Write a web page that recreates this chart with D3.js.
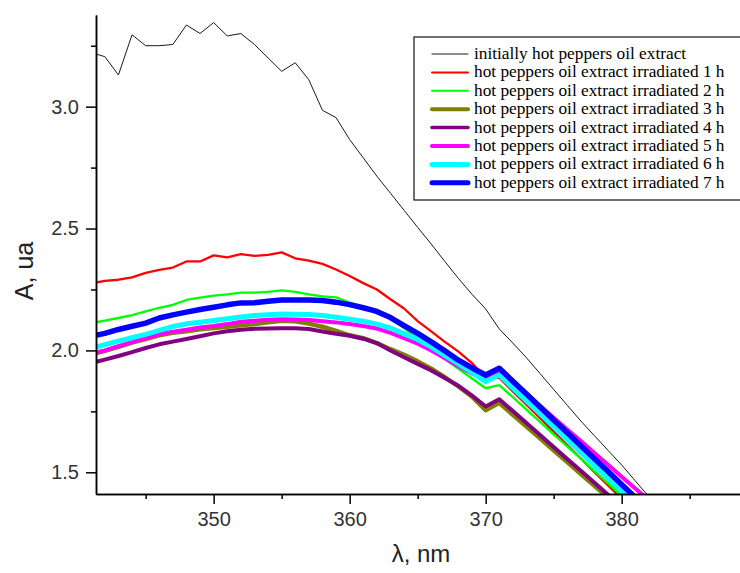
<!DOCTYPE html>
<html>
<head>
<meta charset="utf-8">
<script src="https://cdn.jsdelivr.net/npm/d3@7"></script>
<style>
body { margin: 0; background: #fff; }
</style>
</head>
<body>
<div id="chart"></div>
<script>
// wavelength, nm
var wavelengths = [341,342,343,344,345,346,347,348,349,350,351,352,353,354,355,356,357,358,359,360,361,
                   362,363,364,365,366,367,368,369,370,371,372,373,374,375,376,377,378,379,380,381,382,383];

var initial  = [3.222,3.205,3.13,3.295,3.25,3.25,3.255,3.335,3.30,3.345,3.29,3.30,3.255,3.20,3.145,3.18,3.11,2.985,2.955,2.865,2.79,
                2.715,2.645,2.575,2.505,2.436,2.365,2.295,2.23,2.17,2.088,2.03,1.97,1.905,1.84,1.775,1.71,1.65,1.59,1.53,1.465,1.40,1.335];
var irr_1h   = [2.275,2.285,2.29,2.30,2.318,2.33,2.34,2.365,2.365,2.39,2.382,2.395,2.388,2.392,2.402,2.378,2.368,2.355,2.332,2.305,2.276,
                2.25,2.21,2.172,2.12,2.078,2.035,1.995,1.948,1.885,1.888,1.832,1.777,1.722,1.667,1.612,1.556,1.501,1.446,1.391,1.336,1.28,1.226];
var irr_2h   = [2.112,2.122,2.133,2.145,2.16,2.175,2.187,2.207,2.217,2.225,2.23,2.237,2.237,2.24,2.246,2.24,2.23,2.222,2.218,2.196,2.18,
                2.153,2.13,2.092,2.05,2.008,1.965,1.925,1.885,1.845,1.858,1.808,1.757,1.707,1.656,1.606,1.556,1.505,1.455,1.404,1.354,1.30,1.25];
var irr_3h   = [1.984,1.998,2.015,2.032,2.047,2.062,2.072,2.079,2.087,2.092,2.097,2.103,2.108,2.115,2.122,2.12,2.11,2.097,2.08,2.062,2.05,
                2.03,2.005,1.982,1.955,1.925,1.89,1.852,1.81,1.755,1.785,1.736,1.688,1.639,1.59,1.542,1.493,1.445,1.396,1.348,1.30,1.25,1.20];
var irr_4h   = [1.948,1.962,1.977,1.993,2.01,2.025,2.036,2.047,2.058,2.07,2.079,2.085,2.089,2.09,2.091,2.091,2.088,2.078,2.068,2.06,2.048,
                2.03,2.0,1.972,1.945,1.918,1.887,1.855,1.815,1.77,1.80,1.751,1.702,1.653,1.604,1.555,1.506,1.457,1.408,1.36,1.31,1.26,1.21];
var irr_5h   = [1.986,2.0,2.017,2.034,2.05,2.066,2.077,2.085,2.094,2.10,2.108,2.118,2.122,2.126,2.128,2.127,2.125,2.12,2.115,2.108,2.10,
                2.09,2.072,2.05,2.028,2.0,1.968,1.935,1.905,1.88,1.918,1.87,1.821,1.773,1.724,1.676,1.628,1.579,1.531,1.482,1.434,1.386,1.337];
var irr_6h   = [2.008,2.024,2.038,2.052,2.066,2.082,2.098,2.109,2.116,2.123,2.13,2.137,2.143,2.146,2.149,2.148,2.147,2.143,2.136,2.128,2.12,
                2.108,2.092,2.068,2.045,2.015,1.98,1.945,1.91,1.872,1.899,1.846,1.793,1.74,1.688,1.635,1.582,1.529,1.476,1.424,1.37,1.318,1.265];
var irr_7h   = [2.058,2.07,2.086,2.099,2.112,2.133,2.146,2.157,2.168,2.177,2.187,2.195,2.196,2.202,2.207,2.207,2.207,2.205,2.198,2.188,2.175,
                2.16,2.135,2.102,2.07,2.035,1.998,1.96,1.928,1.899,1.927,1.874,1.821,1.768,1.715,1.662,1.609,1.556,1.503,1.45,1.397,1.344,1.29];

var series_names = [
    'initially hot peppers oil extract',
    'hot peppers oil extract irradiated 1 h',
    'hot peppers oil extract irradiated 2 h',
    'hot peppers oil extract irradiated 3 h',
    'hot peppers oil extract irradiated 4 h',
    'hot peppers oil extract irradiated 5 h',
    'hot peppers oil extract irradiated 6 h',
    'hot peppers oil extract irradiated 7 h'
];
var series_values = [ initial, irr_1h, irr_2h, irr_3h, irr_4h, irr_5h, irr_6h, irr_7h ];

var x_major = [350, 360, 370, 380];
var x_minor = [345, 355, 365, 375, 385];
var y_major = [1.5, 2.0, 2.5, 3.0];
var y_minor = [1.75, 2.25, 2.75, 3.25];

// styles
var line_colors = ['#1a1a1a', '#ff0000', '#00ff00', '#808000', '#800080', '#ff00ff', '#00ffff', '#0000ff'];
var line_widths = [1, 2.3, 2.3, 4.5, 4, 4, 5, 5.5];
var legend_widths = [1, 2, 2, 4, 3.5, 4, 5, 5];

var chart_width  = 740;
var chart_height = 573;
var plot_left    = 96;
var plot_right   = 740;
var plot_top     = 15;
var plot_bottom  = 494;

var svg = d3.select( '#chart' )
    .append( 'svg' )
    .attr( 'width', chart_width )
    .attr( 'height', chart_height )
    .style( 'font-family', '"Liberation Sans", Arial, sans-serif' );

// 13.6 px per nm, 350 at x=213.7
var x_scale = d3.scaleLinear()
    .domain([341.35, 388.7])
    .range([plot_left, plot_right]);

var y_scale = d3.scaleLinear()
    .domain([1.411, 3.376])
    .range([plot_bottom, plot_top]);

svg.append( 'clipPath' )
    .attr( 'id', 'plot-clip' )
    .append( 'rect' )
    .attr( 'x', plot_left )
    .attr( 'y', plot_top )
    .attr( 'width', plot_right - plot_left )
    .attr( 'height', plot_bottom - plot_top );

var line = d3.line()
    .x(function( d ){ return x_scale(d[0]); })
    .y(function( d ){ return y_scale(d[1]); });

svg.append( 'g' )
    .attr( 'clip-path', 'url(#plot-clip)' )
    .selectAll( 'path' )
    .data( series_values )
    .enter()
    .append( 'path' )
    .attr( 'd', function( vals ){
        return line( wavelengths.map(function( w, i ){ return [w, vals[i]]; }) );
    })
    .attr( 'fill', 'none' )
    .attr( 'stroke', function( d, i ){ return line_colors[i]; })
    .attr( 'stroke-width', function( d, i ){ return line_widths[i]; })
    .attr( 'stroke-linejoin', 'round' );

// Axes
var x_axis = d3.axisBottom( x_scale )
    .tickValues( x_major )
    .tickSize( 10 )
    .tickSizeOuter( 0 )
    .tickPadding( 8 )
    .tickFormat( d3.format( 'd' ) );

var x_axis_minor = d3.axisBottom( x_scale )
    .tickValues( x_minor )
    .tickSize( 5 )
    .tickSizeOuter( 0 )
    .tickFormat( '' );

var y_axis = d3.axisLeft( y_scale )
    .tickValues( y_major )
    .tickSize( 10 )
    .tickSizeOuter( 0 )
    .tickPadding( 7 )
    .tickFormat( d3.format( '.1f' ) );

var y_axis_minor = d3.axisLeft( y_scale )
    .tickValues( y_minor )
    .tickSize( 5 )
    .tickSizeOuter( 0 )
    .tickFormat( '' );

svg.append( 'g' ).attr( 'class', 'axis' ).attr( 'transform', 'translate(0,' + plot_bottom + ')' ).call( x_axis_minor );
svg.append( 'g' ).attr( 'class', 'axis' ).attr( 'transform', 'translate(0,' + plot_bottom + ')' ).call( x_axis );
svg.append( 'g' ).attr( 'class', 'axis' ).attr( 'transform', 'translate(' + plot_left + ',0)' ).call( y_axis_minor );
svg.append( 'g' ).attr( 'class', 'axis' ).attr( 'transform', 'translate(' + plot_left + ',0)' ).call( y_axis );

svg.selectAll( '.axis path, .axis line' )
    .attr( 'stroke', '#000' )
    .attr( 'stroke-width', 1.5 );

svg.selectAll( '.axis text' )
    .attr( 'font-size', 20 )
    .attr( 'font-family', '"Liberation Sans", Arial, sans-serif' )
    .attr( 'fill', '#333' );

// Axis titles
svg.append( 'text' )
    .text( 'λ, nm' )
    .attr( 'x', 421 )
    .attr( 'y', 562 )
    .attr( 'text-anchor', 'middle' )
    .attr( 'font-size', 24 )
    .attr( 'fill', '#222' );

svg.append( 'text' )
    .text( 'A, ua' )
    .attr( 'transform', 'translate(33,271) rotate(-90)' )
    .attr( 'text-anchor', 'middle' )
    .attr( 'font-size', 25 )
    .attr( 'fill', '#222' );

// Legend
var legend = svg.append( 'g' );

legend.append( 'rect' )
    .attr( 'x', 414 )
    .attr( 'y', 37 )
    .attr( 'width', 340 )
    .attr( 'height', 163 )
    .attr( 'fill', '#fff' )
    .attr( 'stroke', '#222' )
    .attr( 'stroke-width', 1.3 );

var legend_rows = legend.selectAll( 'g.row' )
    .data( series_names )
    .enter()
    .append( 'g' )
    .attr( 'class', 'row' )
    .attr( 'transform', function( d, i ){ return 'translate(0,' + (54 + i * 18.4) + ')'; });

legend_rows.append( 'line' )
    .attr( 'x1', 432 )
    .attr( 'x2', 468 )
    .attr( 'stroke', function( d, i ){ return line_colors[i]; })
    .attr( 'stroke-width', function( d, i ){ return legend_widths[i]; })
    .attr( 'stroke-linecap', 'round' );

legend_rows.append( 'text' )
    .text(function( d ){ return d; })
    .attr( 'x', 474 )
    .attr( 'y', 5 )
    .attr( 'font-family', '"Liberation Serif", "Times New Roman", serif' )
    .attr( 'font-size', 17.3 )
    .attr( 'fill', '#000' );
</script>
</body>
</html>
